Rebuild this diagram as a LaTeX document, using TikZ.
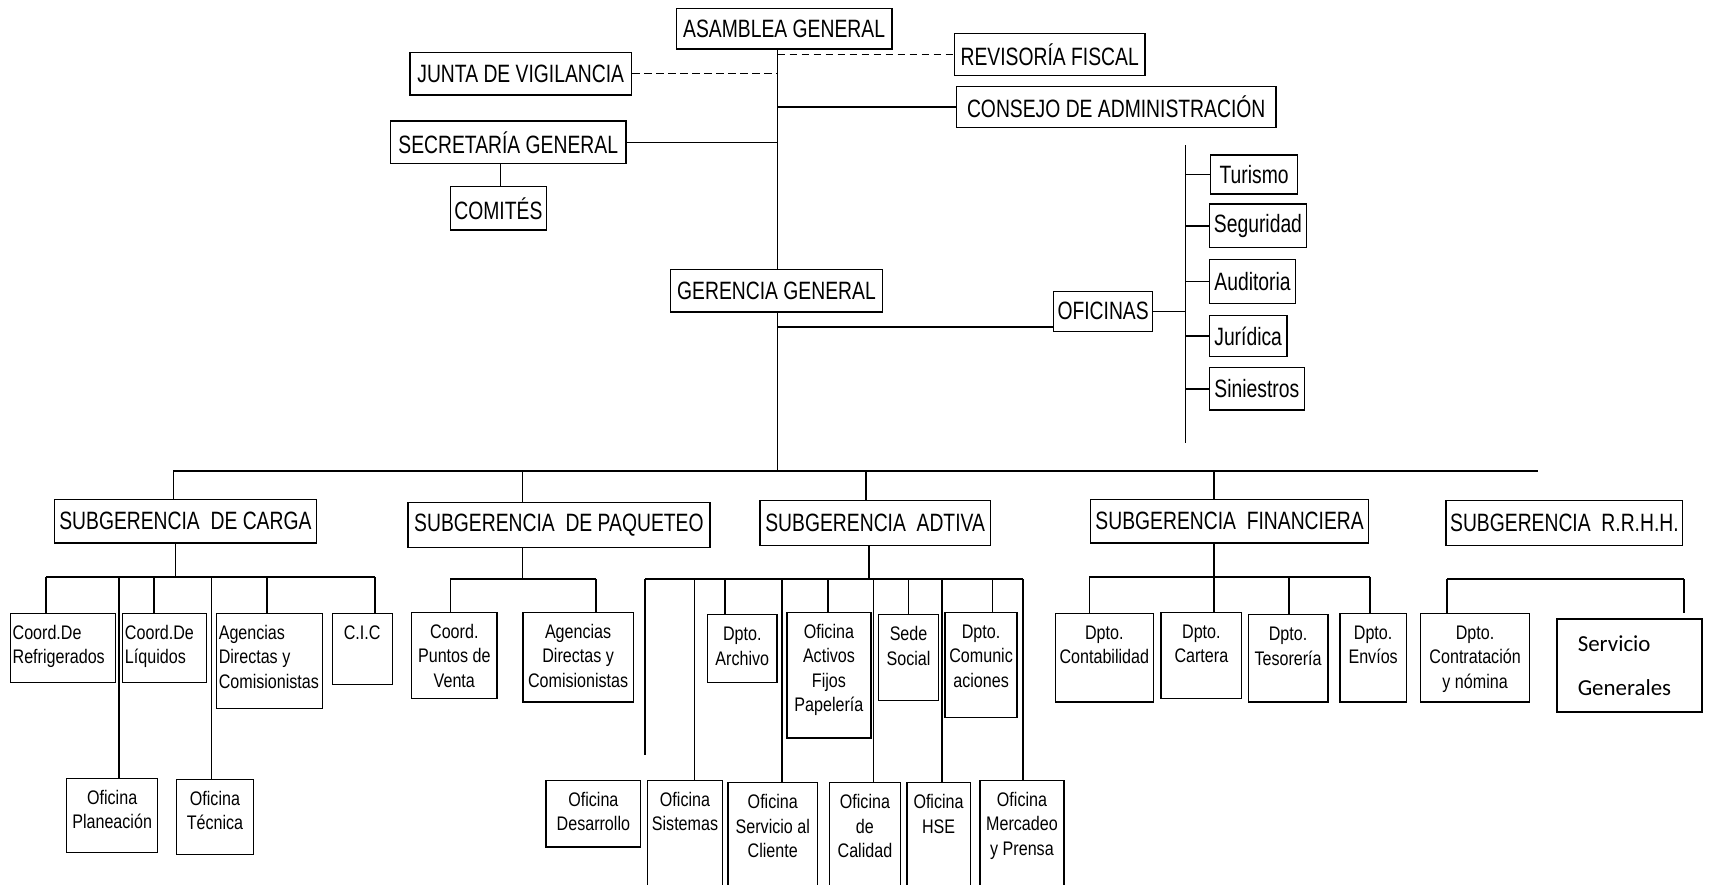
\documentclass[tikz,border=0pt]{standalone}
\usepackage{fontspec}
\setmainfont{Liberation Sans}
\newfontfamily\bigf{Liberation Sans}[FakeStretch=0.77]
\newfontfamily\smf{Liberation Sans}[FakeStretch=0.82]
\newfontfamily\calf{Carlito}
\usetikzlibrary{calc}
\newcommand\tbc[3]{\parbox[c][#2][t]{#1}{\centering\vspace{8pt}\strut#3\par}}
\newcommand\tbl[3]{\parbox[c][#2][t]{#1}{\raggedright\leftskip=2pt\vspace{8pt}\strut#3\par}}
\tikzset{
  bigbox/.style={draw, line width=1.2pt, inner sep=0pt, align=center, font=\bigf\fontsize{23}{26}\selectfont},
  smallbox/.style={draw, line width=1.2pt, inner sep=0pt, anchor=north west, font=\smf\fontsize{18}{22.5}\selectfont},
  ln/.style={line width=1.4pt},
  dsh/.style={line width=1.5pt, dash pattern=on 7pt off 4pt}
}
\begin{document}
\begin{tikzpicture}[x=1pt,y=-1pt]
\useasboundingbox (0,0) rectangle (1568,811);
\clip (0,0) rectangle (1568,811);
% top
\node[bigbox,minimum width=198pt,minimum height=37pt] (asam) at (719,26.5) {ASAMBLEA GENERAL};
\node[bigbox,minimum width=175pt,minimum height=38pt] (rev) at (962.5,50) {REVISORÍA FISCAL};
\node[bigbox,minimum width=203pt,minimum height=39pt] (junta) at (477.5,67.5) {JUNTA DE VIGILANCIA};
\node[bigbox,minimum width=293pt,minimum height=38pt] (consejo) at (1023.5,98) {CONSEJO DE ADMINISTRACIÓN};
\node[bigbox,minimum width=216pt,minimum height=39pt] (secre) at (466,130.5) {SECRETARÍA GENERAL};
\node[bigbox,minimum width=88pt,minimum height=40pt] (comites) at (457,191) {COMITÉS};
\node[bigbox,minimum width=194pt,minimum height=39pt] (ger) at (712,266.5) {GERENCIA GENERAL};
\node[bigbox,minimum width=91pt,minimum height=37pt] (ofi) at (1011.5,285.5) {OFICINAS};
\node[bigbox,minimum width=80pt,minimum height=36pt] (tur) at (1150,160) {Turismo};
\node[bigbox,minimum width=89pt,minimum height=40pt] (seg) at (1153.5,207) {Seguridad};
\node[bigbox,minimum width=79pt,minimum height=40pt] (aud) at (1148.5,258) {Auditoria};
\node[bigbox,minimum width=71pt,minimum height=38pt] (jur) at (1144.5,308) {Jurídica};
\node[bigbox,minimum width=87pt,minimum height=39pt] (sin) at (1152.5,356.5) {Siniestros};
% subgerencias
\node[bigbox,minimum width=240pt,minimum height=40pt] (carga) at (170,478) {SUBGERENCIA\ \ DE CARGA};
\node[bigbox,minimum width=277pt,minimum height=41pt] (paq) at (512.5,481.5) {SUBGERENCIA\ \ DE PAQUETEO};
\node[bigbox,minimum width=211pt,minimum height=41pt] (adt) at (802.5,479.5) {SUBGERENCIA\ \ ADTIVA};
\node[bigbox,minimum width=255pt,minimum height=40pt] (fin) at (1127.5,478) {SUBGERENCIA\ \ FINANCIERA};
\node[bigbox,minimum width=217pt,minimum height=41pt] (rrhh) at (1434.5,479.5) {SUBGERENCIA\ \ R.R.H.H.};
% carga
\node[smallbox] (refr) at (9,562) {\tbl{96pt}{63pt}{Coord.De\\Refrigerados}};
\node[smallbox] (liq) at (112,562) {\tbl{77pt}{63pt}{Coord.De\\Líquidos}};
\node[smallbox] (agc) at (198,562) {\tbl{97pt}{87pt}{Agencias\\Directas y\\Comisionistas}};
\node[smallbox] (cic) at (304,562) {\tbc{55pt}{65pt}{C.I.C}};
\node[smallbox] (plan) at (60.5,713) {\tbc{83.5pt}{68pt}{Oficina\\Planeación}};
\node[smallbox] (tec) at (161,714) {\tbc{71pt}{69pt}{Oficina\\Técnica}};
% paqueteo
\node[smallbox] (puntos) at (377,561) {\tbc{78pt}{79pt}{Coord.\\Puntos de\\Venta}};
\node[smallbox] (agp) at (479,561) {\tbc{101pt}{82pt}{Agencias\\Directas y\\Comisionistas}};
% adtiva
\node[smallbox] (arch) at (648,563) {\tbc{64pt}{62pt}{Dpto.\\Archivo}};
\node[smallbox] (act) at (721,561) {\tbc{77pt}{115pt}{Oficina\\Activos\\Fijos\\Papelería}};
\node[smallbox] (sede) at (805,563) {\tbc{55pt}{79pt}{Sede\\Social}};
\node[smallbox] (com) at (866,561) {\tbc{66pt}{96pt}{Dpto.\\Comunic\\aciones}};
\node[smallbox] (desa) at (500,715) {\tbc{87pt}{61pt}{Oficina\\Desarrollo}};
\node[smallbox] (sist) at (593,715) {\tbc{69pt}{120pt}{Oficina\\Sistemas}};
\node[smallbox] (serv) at (667,717) {\tbc{82pt}{120pt}{Oficina\\Servicio al\\Cliente}};
\node[smallbox] (cal) at (760,717) {\tbc{65pt}{120pt}{Oficina\\de\\Calidad}};
\node[smallbox] (hse) at (831,717) {\tbc{58pt}{120pt}{Oficina\\HSE}};
\node[smallbox] (merc) at (898,715) {\tbc{77pt}{120pt}{Oficina\\Mercadeo\\y Prensa}};
% financiera
\node[smallbox] (cont) at (967,562) {\tbc{90pt}{81pt}{Dpto.\\Contabilidad}};
\node[smallbox] (cart) at (1064,561) {\tbc{74pt}{79pt}{Dpto.\\Cartera}};
\node[smallbox] (teso) at (1144,563) {\tbc{73pt}{80pt}{Dpto.\\Tesorería}};
\node[smallbox] (env) at (1228,562) {\tbc{61pt}{81pt}{Dpto.\\Envíos}};
% rrhh
\node[smallbox] (contr) at (1302,562) {\tbc{100pt}{81pt}{Dpto.\\Contratación\\y nómina}};
\node[draw, line width=1.5pt, inner sep=0pt, anchor=north west] (servg) at (1427,567)
  {\parbox[c][85pt][t]{133pt}{\calf\fontsize{21}{40}\selectfont\raggedright\leftskip=19pt\vspace{2pt}\strut Servicio\\Generales\par}};

% connectors top
\coordinate (trk) at (713,0);
\draw[ln] (asam.south -| trk) -- (ger.north -| trk);
\draw[dsh] (trk |- rev.west) -- (rev.west);
\draw[dsh] (junta.east) -- (trk |- junta.east);
\draw[ln] (trk |- consejo.west) -- (consejo.west);
\draw[ln] (secre.east) -- (trk |- secre.east);
\coordinate (cmx) at (459,0);
\draw[ln] (secre.south -| cmx) -- (comites.north -| cmx);
\coordinate (bus) at (713,432);
\draw[ln] (ger.south -| trk) -- (bus);
\coordinate (ofl) at ($(ofi.south west)+(0,-5)$);
\draw[ln] (trk |- ofl) -- (ofl);
\coordinate (obT) at (1087,133);
\coordinate (obB) at (1087,406);
\draw[ln] (obT) -- (obB);
\draw[ln] (ofi.east) -- (obT |- ofi.east);
\foreach \n in {tur,seg,aud,jur,sin} \draw[ln] (obT |- \n.west) -- (\n.west);
% main bus
\coordinate (bL) at (159,432);
\coordinate (bR) at (1410,432);
\draw[ln] (bL) -- (bR);
\draw[ln] (bL) -- (bL |- carga.north);
\coordinate (bp) at (479,432);
\draw[ln] (bp) -- (bp |- paq.north);
\coordinate (ba) at (794,432);
\draw[ln] (ba) -- (ba |- adt.north);
\coordinate (bf) at (1113,432);
\draw[ln] (bf) -- (bf |- fin.north);
% carga group
\coordinate (cL) at (42,529);
\coordinate (cR) at (344,529);
\draw[ln] (cL) -- (cR);
\coordinate (cs) at (161,529);
\draw[ln] (carga.south -| cs) -- (cs);
\foreach \x/\n in {42/refr,109/plan,141/liq,194/tec,245/agc,344/cic}{
  \coordinate (t) at (\x,529);
  \draw[ln] (t) -- (t |- \n.north);}
% paqueteo group
\coordinate (pL) at (413,531);
\coordinate (pR) at (546.5,531);
\draw[ln] (pL) -- (pR);
\coordinate (ps) at (479,531);
\draw[ln] (paq.south -| ps) -- (ps);
\draw[ln] (pL) -- (pL |- puntos.north);
\draw[ln] (pR) -- (pR |- agp.north);
% adtiva group
\coordinate (aL) at (591.5,531);
\coordinate (aR) at (938,531);
\draw[ln] (aL) -- (aR);
\coordinate (as) at (797,531);
\draw[ln] (adt.south -| as) -- (as);
\coordinate (aE) at (591.5,692);
\draw[ln] (aL) -- (aE);
\foreach \x/\n in {637/sist,665/arch,717/serv,759/act,801/cal,833/sede,864/hse,910/com,938/merc}{
  \coordinate (t) at (\x,531);
  \draw[ln] (t) -- (t |- \n.north);}
% financiera group
\coordinate (fL) at (999,529);
\coordinate (fR) at (1256,529);
\draw[ln] (fL) -- (fR);
\coordinate (fs) at (1113,529);
\draw[ln] (fin.south -| fs) -- (fs);
\foreach \x/\n in {999/cont,1113/cart,1182/teso,1256/env}{
  \coordinate (t) at (\x,529);
  \draw[ln] (t) -- (t |- \n.north);}
% rrhh group
\coordinate (rL) at (1327,531);
\coordinate (rR) at (1544,531);
\draw[ln] (rL) -- (rR);
\draw[ln] (rL) -- (rL |- contr.north);
\coordinate (rE) at (1544,562);
\draw[ln] (rR) -- (rE);
\end{tikzpicture}
\end{document}
